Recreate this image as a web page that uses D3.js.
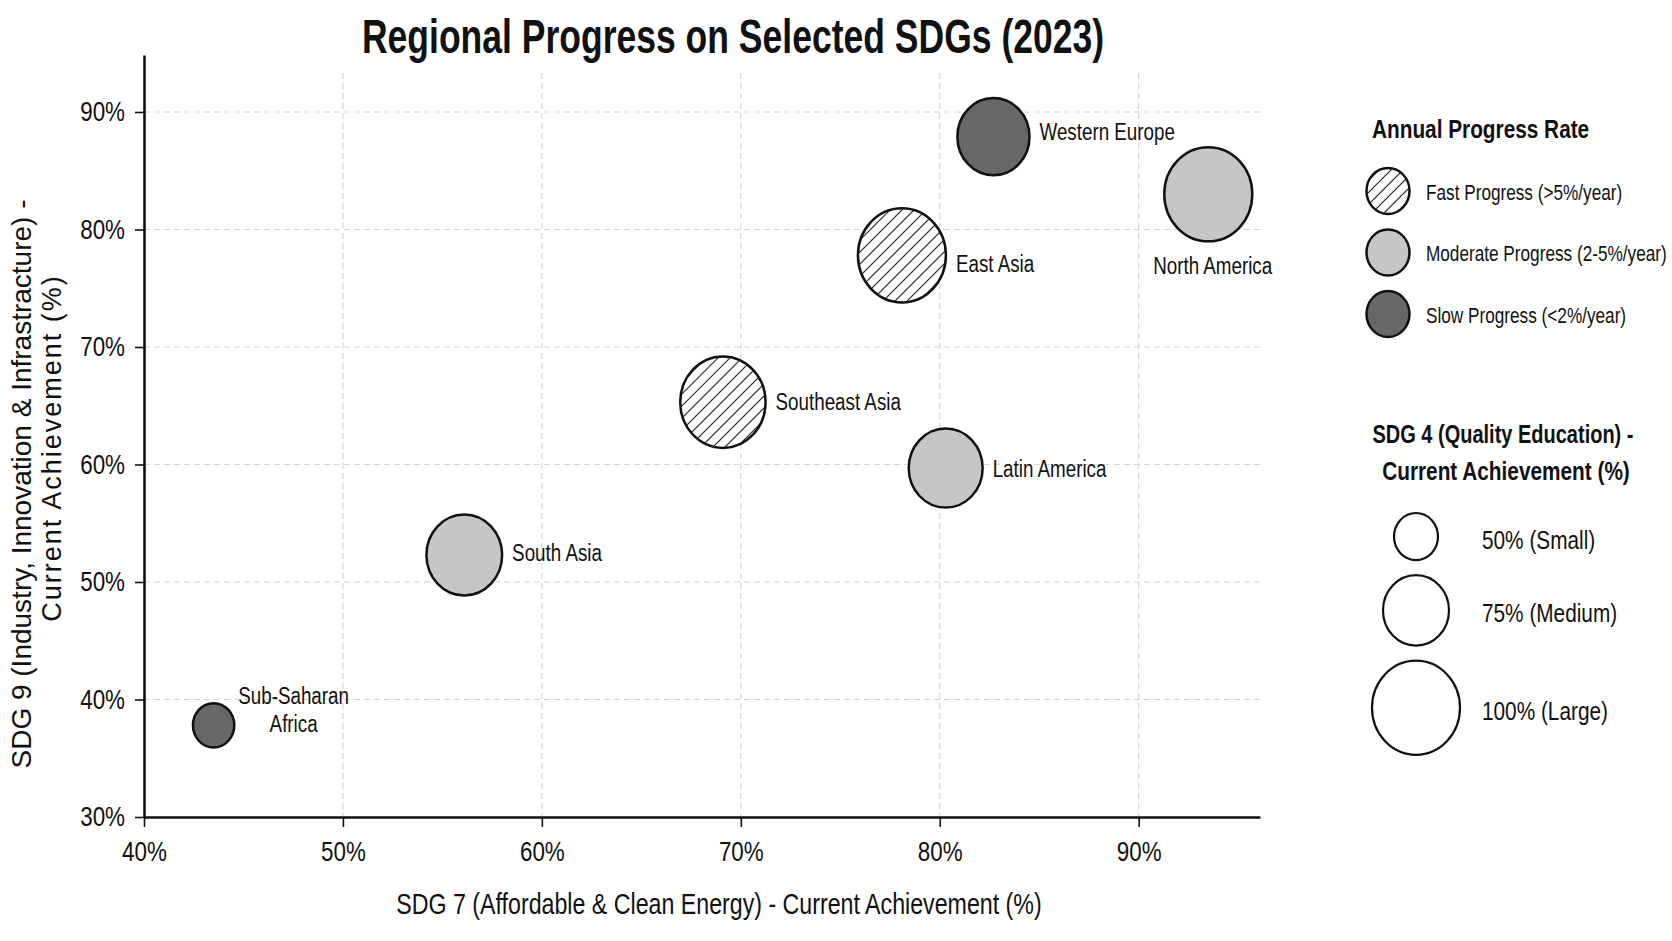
<!DOCTYPE html>
<html>
<head>
<meta charset="utf-8">
<script src="https://cdn.jsdelivr.net/npm/d3@7"></script>
<style>
  body { margin: 0; background: #fff; }
  svg text {
    font-family: 'Liberation Sans', Arial, sans-serif;
    fill: #111;
  }
</style>
</head>
<body>
<div class="container"></div>
<script>
// data
const regions = ['Western Europe', 'North America', 'East Asia', 'Southeast Asia', 'Latin America', 'South Asia', 'Sub-Saharan Africa'];
const sdg7 = [82.7, 93.5, 78.1, 69.1, 80.3, 56.1, 43.5];
const sdg9 = [87.9, 83.0, 77.8, 65.3, 59.7, 52.3, 37.8];
const sdg4 = [82, 100, 100, 97, 84, 86, 47];
const progress = ['Slow', 'Moderate', 'Fast', 'Fast', 'Moderate', 'Moderate', 'Slow'];

const progressKeys = ['Fast', 'Moderate', 'Slow'];
const progressLabels = ['Fast Progress (>5%/year)', 'Moderate Progress (2-5%/year)', 'Slow Progress (<2%/year)'];
const sizeLegend = [50, 75, 100];
const sizeLegendLabels = ['50% (Small)', '75% (Medium)', '100% (Large)'];
const xTicks = [40, 50, 60, 70, 80, 90];
const yTicks = [30, 40, 50, 60, 70, 80, 90];

const width = 1672;
const height = 941;
const plotLeft = 144, plotRight = 1260, plotTop = 55, plotBottom = 817;
const aspect = 1.07; // bubbles are drawn a bit taller than wide
const narrow = 0.8;  // squeeze text to a condensed look

const fills = { Fast: 'url(#hatch)', Moderate: '#c6c6c6', Slow: '#676767' };
// small vertical nudges for labels placed to the right of a bubble
const labelNudge = { 'Western Europe': -5, 'East Asia': 8, 'Southeast Asia': 0, 'Latin America': 1, 'South Asia': -2 };

const points = regions.map((name, i) => ({
  name, x: sdg7[i], y: sdg9[i], size: sdg4[i], rate: progress[i]
}));

// no condensed face is installed, so squeeze the glyphs round their anchor
const condense = (sel, k) => {
  sel.each(function () {
    const x = +this.getAttribute('x') || 0;
    d3.select(this)
      .attr('transform', `translate(${x},0) scale(${k || narrow},1) translate(${-x},0)`);
  });
};

const svg = d3.select('.container')
  .append('svg')
  .attr('width', width)
  .attr('height', height)
  .attr('viewBox', `0 0 ${width} ${height}`);

const defs = svg.append('defs');
const hatch = defs.append('pattern')
  .attr('id', 'hatch')
  .attr('patternUnits', 'userSpaceOnUse')
  .attr('width', 8.5)
  .attr('height', 8.5)
  .attr('patternTransform', 'rotate(45)');
hatch.append('rect').attr('width', 8.5).attr('height', 8.5).attr('fill', '#fff');
hatch.append('line')
  .attr('x1', 4.25).attr('y1', 0).attr('x2', 4.25).attr('y2', 8.5)
  .attr('stroke', '#2a2a2a').attr('stroke-width', 1.1);

const xScale = d3.scaleLinear().domain([40, 96.1]).range([plotLeft, plotRight]);
const yScale = d3.scaleLinear().domain([30, 94.85]).range([plotBottom, plotTop]);
const rScale = d3.scaleLinear().domain([0, 100]).range([0, 44]);

// title
svg.append('text')
  .attr('class', 'cond-title')
  .attr('x', 733)
  .attr('y', 53)
  .attr('text-anchor', 'middle')
  .style('font-size', '48px')
  .style('font-weight', 'bold')
  .text('Regional Progress on Selected SDGs (2023)');

// grid
const grid = svg.append('g').attr('class', 'grid');
grid.selectAll('line.v')
  .data(xTicks.slice(1))
  .enter()
  .append('line')
  .attr('class', 'v')
  .attr('x1', (d) => xScale(d))
  .attr('x2', (d) => xScale(d))
  .attr('y1', plotTop + 18)
  .attr('y2', plotBottom);
grid.selectAll('line.h')
  .data(yTicks.slice(1))
  .enter()
  .append('line')
  .attr('class', 'h')
  .attr('x1', plotLeft)
  .attr('x2', plotRight)
  .attr('y1', (d) => yScale(d))
  .attr('y2', (d) => yScale(d));
grid.selectAll('line')
  .attr('stroke', '#d4d4d4')
  .attr('stroke-width', 1.2)
  .attr('stroke-dasharray', '6,4');

// bubbles
svg.append('g')
  .attr('id', 'bubbles')
  .selectAll('ellipse')
  .data(points)
  .enter()
  .append('ellipse')
  .attr('cx', (d) => xScale(d.x))
  .attr('cy', (d) => yScale(d.y))
  .attr('rx', (d) => rScale(d.size))
  .attr('ry', (d) => rScale(d.size) * aspect)
  .attr('fill', (d) => fills[d.rate])
  .attr('stroke', '#111')
  .attr('stroke-width', 2.5);

// bubble labels
const labels = svg.append('g').attr('id', 'labels').style('font-size', '23.5px');
points.forEach((d) => {
  const cx = xScale(d.x);
  const cy = yScale(d.y);
  const r = rScale(d.size);
  if (d.name === 'North America') {
    labels.append('text')
      .attr('x', cx + r * 0.1)
      .attr('y', cy + r * aspect + 24)
      .attr('dy', '0.35em')
      .attr('text-anchor', 'middle')
      .text(d.name);
  } else if (d.name === 'Sub-Saharan Africa') {
    labels.append('text')
      .attr('x', cx + 80).attr('y', cy - 30).attr('dy', '0.35em')
      .attr('text-anchor', 'middle')
      .text('Sub-Saharan');
    labels.append('text')
      .attr('x', cx + 80).attr('y', cy - 2).attr('dy', '0.35em')
      .attr('text-anchor', 'middle')
      .text('Africa');
  } else {
    labels.append('text')
      .attr('x', cx + r + 10)
      .attr('y', cy + (labelNudge[d.name] || 0))
      .attr('dy', '0.35em')
      .text(d.name);
  }
});

// axes
const xAxis = d3.axisBottom(xScale)
  .tickValues(xTicks)
  .tickFormat((d) => d + '%')
  .tickSize(10)
  .tickSizeOuter(0)
  .tickPadding(14);
const yAxis = d3.axisLeft(yScale)
  .tickValues(yTicks)
  .tickFormat((d) => d + '%')
  .tickSize(9)
  .tickSizeOuter(0)
  .tickPadding(10);

const gx = svg.append('g')
  .attr('id', 'x-axis')
  .attr('transform', `translate(0, ${plotBottom})`)
  .call(xAxis);
const gy = svg.append('g')
  .attr('id', 'y-axis')
  .attr('transform', `translate(${plotLeft}, 0)`)
  .call(yAxis);

[gx, gy].forEach((g) => {
  g.select('.domain').attr('stroke', '#111').attr('stroke-width', 2.6);
  g.selectAll('.tick line').attr('stroke', '#111').attr('stroke-width', 1.6);
  g.selectAll('.tick text')
    .attr('fill', '#111')
    .style('font-family', "'Liberation Sans', Arial, sans-serif")
    .style('font-size', '28px');
});

// axis titles
svg.append('text')
  .attr('x', 719)
  .attr('y', 914)
  .attr('text-anchor', 'middle')
  .style('font-size', '29px')
  .text('SDG 7 (Affordable & Clean Energy) - Current Achievement (%)');

const yTitle = svg.append('g').attr('class', 'wide');
yTitle.append('text')
  .attr('transform', 'translate(31, 484) rotate(-90)')
  .attr('text-anchor', 'middle')
  .style('font-size', '28px')
  .text('SDG 9 (Industry, Innovation & Infrastracture) -');
yTitle.append('text')
  .attr('transform', 'translate(61, 448) rotate(-90)')
  .attr('text-anchor', 'middle')
  .style('font-size', '27px')
  .style('letter-spacing', '2px')
  .text('Current Achievement (%)');

// legend: progress rate
const legend1 = svg.append('g').attr('id', 'legend-rate');
legend1.append('text')
  .attr('x', 1372)
  .attr('y', 138)
  .style('font-size', '26px')
  .style('font-weight', 'bold')
  .text('Annual Progress Rate');
const rows1 = legend1.selectAll('g.row')
  .data(progressKeys)
  .enter()
  .append('g')
  .attr('class', 'row')
  .attr('transform', (d, i) => `translate(1388, ${191 + i * 61.5})`);
rows1.append('ellipse')
  .attr('rx', 21.5)
  .attr('ry', 21.5 * aspect)
  .attr('fill', (d) => fills[d])
  .attr('stroke', '#111')
  .attr('stroke-width', 2.5);
rows1.append('text')
  .attr('x', 38)
  .attr('y', 1)
  .attr('dy', '0.35em')
  .style('font-size', '21.5px')
  .text((d, i) => progressLabels[i]);

// legend: bubble size
const legend2 = svg.append('g').attr('id', 'legend-size');
legend2.append('text')
  .attr('x', 1503)
  .attr('y', 443)
  .attr('text-anchor', 'middle')
  .style('font-size', '25px')
  .style('font-weight', 'bold')
  .text('SDG 4 (Quality Education) -');
legend2.append('text')
  .attr('x', 1506)
  .attr('y', 480)
  .attr('text-anchor', 'middle')
  .style('font-size', '26px')
  .style('font-weight', 'bold')
  .text('Current Achievement (%)');

let yCursor = 513;
sizeLegend.forEach((v, i) => {
  const ry = rScale(v) * aspect;
  const cy = yCursor + ry;
  legend2.append('ellipse')
    .attr('cx', 1416)
    .attr('cy', cy)
    .attr('rx', rScale(v))
    .attr('ry', ry)
    .attr('fill', '#fff')
    .attr('stroke', '#111')
    .attr('stroke-width', 2.2);
  legend2.append('text')
    .attr('x', 1482)
    .attr('y', cy + 3)
    .attr('dy', '0.35em')
    .style('font-size', '26px')
    .text(sizeLegendLabels[i]);
  yCursor = cy + ry + 15;
});

// condense every text except the y-axis title, which is set wide
condense(svg.selectAll('text').filter(function () {
  return !this.closest('.wide') && !this.classList.contains('cond-title');
}));
condense(svg.selectAll('text.cond-title'), 0.74);
</script>
</body>
</html>
